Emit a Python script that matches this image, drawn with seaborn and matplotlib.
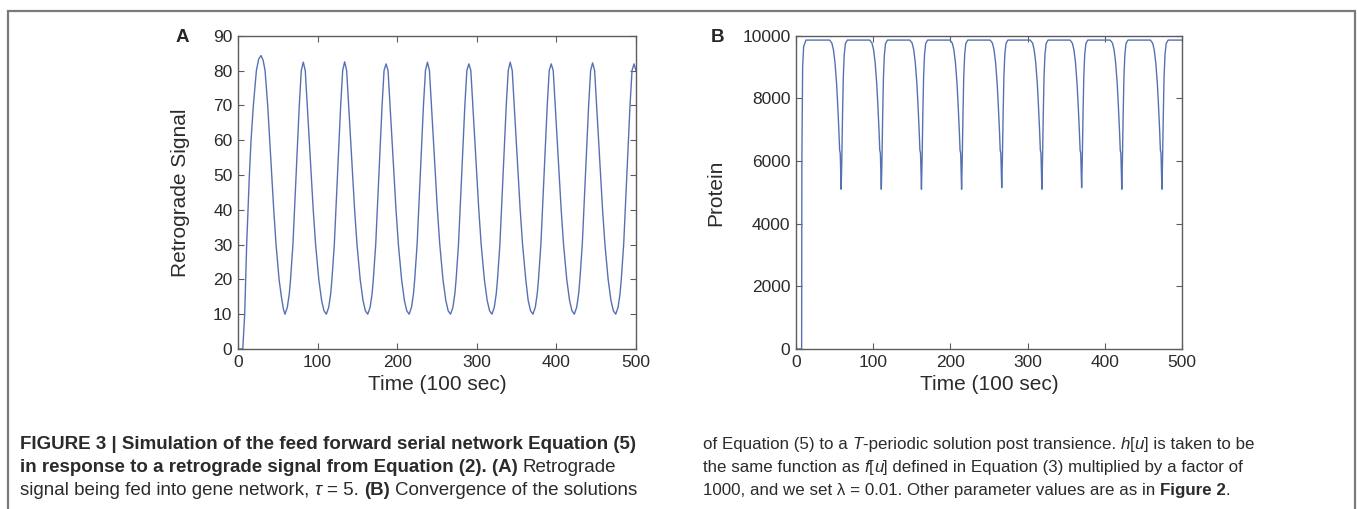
import matplotlib
matplotlib.use("Agg")
import matplotlib.pyplot as plt
import seaborn as sns
from matplotlib.patches import Rectangle

# --- data ---
# (A) retrograde signal, time in units of 100 sec
TIME_A = [
    0, 6, 8.4, 9.7, 10.9, 12.6, 14.3, 16.4, 19.3, 23.1, 26, 28.9, 31.5, 34, 37.3, 39.8, 42.4, 44.9, 47.8, 51.6, 54.5, 57,
    59, 62, 64.5, 66, 69, 71, 73, 75, 77, 79.5, 82, 84.5, 87, 89.5, 92, 94.5, 97.5, 101.5, 105, 108,
    111, 114, 116.5, 118, 121, 123, 125, 127, 129, 131.5, 134, 136.5, 139, 141.5, 144, 146.5, 149.5, 153.5, 157, 160,
    163, 166, 168.5, 170, 173, 175, 177, 179, 181, 183.5, 186, 188.5, 191, 193.5, 196, 198.5, 201.5, 205.5, 209, 212,
    215, 218, 220.5, 222, 225, 227, 229, 231, 233, 235.5, 238, 240.5, 243, 245.5, 248, 250.5, 253.5, 257.5, 261, 264,
    267, 270, 272.5, 274, 277, 279, 281, 283, 285, 287.5, 290, 292.5, 295, 297.5, 300, 302.5, 305.5, 309.5, 313, 316,
    319, 322, 324.5, 326, 329, 331, 333, 335, 337, 339.5, 342, 344.5, 347, 349.5, 352, 354.5, 357.5, 361.5, 364.5, 367.5,
    370.5, 373.5, 376, 377.5, 380.5, 382.5, 384.5, 386.5, 388.5, 391, 393.5, 396, 398.5, 401, 403.5, 406, 409, 413, 416.5, 419.5,
    422.5, 425.5, 428, 429.5, 432.5, 434.5, 436.5, 438.5, 440.5, 443, 445.5, 448, 450.5, 453, 455.5, 458, 461, 465, 468.5, 471.5,
    474.5, 477.5, 480, 481.5, 484.5, 486.5, 488.5, 490.5, 492.5, 495, 497.5, 500,
]
SIGNAL_A = [
    0, 0, 10, 20, 30, 40, 50, 60, 70, 80, 83.3, 84.3, 83, 80, 70, 60, 50, 40, 30, 20, 15, 11.5,
    10, 12, 16, 20, 30, 40, 50, 60, 70, 80, 82.4, 80, 70, 60, 50, 40, 30, 20, 14, 11,
    10, 12, 16, 20, 30, 40, 50, 60, 70, 80, 82.5, 80, 70, 60, 50, 40, 30, 20, 14, 11,
    10, 12, 16, 20, 30, 40, 50, 60, 70, 80, 81.9, 80, 70, 60, 50, 40, 30, 20, 14, 11,
    10, 12, 16, 20, 30, 40, 50, 60, 70, 80, 82.4, 80, 70, 60, 50, 40, 30, 20, 14, 11,
    10, 12, 16, 20, 30, 40, 50, 60, 70, 80, 81.9, 80, 70, 60, 50, 40, 30, 20, 14, 11,
    10, 12, 16, 20, 30, 40, 50, 60, 70, 80, 82.4, 80, 70, 60, 50, 40, 30, 20, 14, 11,
    10, 12, 16, 20, 30, 40, 50, 60, 70, 80, 81.9, 80, 70, 60, 50, 40, 30, 20, 14, 11,
    10, 12, 16, 20, 30, 40, 50, 60, 70, 80, 82.2, 80, 70, 60, 50, 40, 30, 20, 14, 11,
    10, 12, 16, 20, 30, 40, 50, 60, 70, 80, 81.9, 80,
]

# (B) protein
TIME_B = [
    0, 7.3, 7.6, 8.6, 9.9, 12.9,
    43.5, 46.5, 48.5, 50.5, 52.5, 54, 55.5, 56.5, 57.3, 58, 58.5, 59.3, 60.3, 61.3, 62.5, 64, 66.5,
    95.5, 98.5, 100.5, 102.5, 104.5, 106, 107.5, 108.5, 109.3, 110, 110.5, 111.3, 112.3, 113.3, 114.5, 116, 118.5,
    147.5, 150.5, 152.5, 154.5, 156.5, 158, 159.5, 160.5, 161.3, 162, 162.5, 163.3, 164.3, 165.3, 166.5, 168, 170.5,
    199.5, 202.5, 204.5, 206.5, 208.5, 210, 211.5, 212.5, 213.3, 214, 214.5, 215.3, 216.3, 217.3, 218.5, 220, 222.5,
    251.5, 254.5, 256.5, 258.5, 260.5, 262, 263.5, 264.5, 265.3, 266, 266.5, 267.3, 268.3, 269.3, 270.5, 272, 274.5,
    303.5, 306.5, 308.5, 310.5, 312.5, 314, 315.5, 316.5, 317.3, 318, 318.5, 319.3, 320.3, 321.3, 322.5, 324, 326.5,
    355, 358, 360, 362, 364, 365.5, 367, 368, 368.8, 369.5, 370, 370.8, 371.8, 372.8, 374, 375.5, 378,
    407, 410, 412, 414, 416, 417.5, 419, 420, 420.8, 421.5, 422, 422.8, 423.8, 424.8, 426, 427.5, 430,
    459, 462, 464, 466, 468, 469.5, 471, 472, 472.8, 473.5, 474, 474.8, 475.8, 476.8, 478, 479.5, 482,
    500,
]
PROTEIN_B = [
    0, 0, 6000, 9000, 9650, 9860,
    9860, 9760, 9550, 9150, 8500, 7800, 7000, 6350, 6250, 5600, 5100, 6000, 7500, 8700, 9400, 9750, 9860,
    9860, 9760, 9550, 9150, 8500, 7800, 7000, 6350, 6250, 5600, 5100, 6000, 7500, 8700, 9400, 9750, 9860,
    9860, 9760, 9550, 9150, 8500, 7800, 7000, 6350, 6250, 5600, 5100, 6000, 7500, 8700, 9400, 9750, 9860,
    9860, 9760, 9550, 9150, 8500, 7800, 7000, 6350, 6250, 5600, 5100, 6000, 7500, 8700, 9400, 9750, 9860,
    9860, 9760, 9550, 9150, 8500, 7800, 7000, 6350, 6250, 5600, 5150, 6000, 7500, 8700, 9400, 9750, 9860,
    9860, 9760, 9550, 9150, 8500, 7800, 7000, 6350, 6250, 5600, 5100, 6000, 7500, 8700, 9400, 9750, 9860,
    9860, 9760, 9550, 9150, 8500, 7800, 7000, 6350, 6250, 5600, 5150, 6000, 7500, 8700, 9400, 9750, 9860,
    9860, 9760, 9550, 9150, 8500, 7800, 7000, 6350, 6250, 5600, 5100, 6000, 7500, 8700, 9400, 9750, 9860,
    9860, 9760, 9550, 9150, 8500, 7800, 7000, 6350, 6250, 5600, 5100, 6000, 7500, 8700, 9400, 9750, 9860,
    9860,
]

X_TICKS = [0, 100, 200, 300, 400, 500]
Y_TICKS_A = [0, 10, 20, 30, 40, 50, 60, 70, 80, 90]
Y_TICKS_B = [0, 2000, 4000, 6000, 8000, 10000]

LINE_COLOR = "#5671b3"
AXIS_COLOR = "#5c5c5c"
TEXT_COLOR = "#2b2b2b"

# caption lines: pieces of (text, style)
CAPTION_LEFT = [
    [("FIGURE 3 | Simulation of the feed forward serial network Equation (5)", "bold")],
    [("in response to a retrograde signal from Equation (2). (A)", "bold"), (" Retrograde", "normal")],
    [("signal being fed into gene network, ", "normal"), ("τ", "italic"), (" = 5. ", "normal"),
     ("(B)", "bold"), (" Convergence of the solutions", "normal")],
]
CAPTION_RIGHT = [
    [("of Equation (5) to a ", "normal"), ("T", "italic"), ("-periodic solution post transience. ", "normal"),
     ("h", "italic"), ("[", "normal"), ("u", "italic"), ("] is taken to be", "normal")],
    [("the same function as ", "normal"), ("f", "italic"), ("[", "normal"), ("u", "italic"),
     ("] defined in Equation (3) multiplied by a factor of", "normal")],
    [("1000, and we set λ = 0.01. Other parameter values are as in ", "normal"), ("Figure 2", "bold"),
     (".", "normal")],
]

W, H = 1357, 509
CAP_FONT = ["Liberation Sans Narrow", "Liberation Sans", "DejaVu Sans"]


def style_axes(ax, yticks, ylabel, label_x):
    ax.set_xlim(0, 500)
    ax.set_ylim(yticks[0], yticks[-1])
    ax.set_xticks(X_TICKS)
    ax.set_yticks(yticks)
    ax.tick_params(direction="in", top=True, right=True, length=4, width=0.8,
                   color=AXIS_COLOR, labelcolor=TEXT_COLOR, labelsize=12.5, pad=4)
    for s in ax.spines.values():
        s.set_visible(True)
        s.set_color(AXIS_COLOR)
        s.set_linewidth(1)
    ax.set_xlabel("Time (100 sec)", fontsize=15, color=TEXT_COLOR)
    ax.set_ylabel(ylabel, fontsize=15, color=TEXT_COLOR)
    ax.xaxis.set_label_coords(0.5, -0.083)
    ax.xaxis.label.set_va("top")
    ax.yaxis.set_label_coords(label_x, 0.5)


def font_kw(style, size):
    kw = dict(family=CAP_FONT, fontsize=size, color=TEXT_COLOR)
    if style == "bold":
        kw["fontweight"] = "bold"
    elif style == "italic":
        kw["fontstyle"] = "italic"
    return kw


def draw_caption(fig, x_px, y_px, lines, step, size):
    # mixed bold / italic runs, placed one after another on a shared baseline
    r = fig.canvas.get_renderer()
    t1 = fig.text(0, 0, "x x", **font_kw("normal", size))
    t2 = fig.text(0, 0, "xx", **font_kw("normal", size))
    space_w = t1.get_window_extent(r).width - t2.get_window_extent(r).width
    t1.remove()
    t2.remove()
    for i, pieces in enumerate(lines):
        y = 1 - (y_px + i * step) / H
        x = x_px
        for text, style in pieces:
            core = text.strip(" ")
            x += (len(text) - len(text.lstrip(" "))) * space_w
            t = fig.text(x / W, y, core, ha="left", va="baseline", **font_kw(style, size))
            x += t.get_window_extent(r).width
            x += (len(text) - len(text.rstrip(" "))) * space_w


def main():
    sns.set_style("ticks")
    plt.rcParams["font.family"] = ["Liberation Sans", "DejaVu Sans"]

    fig = plt.figure(figsize=(W / 100, H / 100), dpi=100)
    ax_a = fig.add_axes([238 / W, 1 - 349 / H, 398 / W, 313.3 / H])
    ax_b = fig.add_axes([796 / W, 1 - 349 / H, 386 / W, 313.3 / H])

    sns.lineplot(x=TIME_A, y=SIGNAL_A, ax=ax_a, color=LINE_COLOR, linewidth=1.0, estimator=None)
    sns.lineplot(x=TIME_B, y=PROTEIN_B, ax=ax_b, color=LINE_COLOR, linewidth=1.0, estimator=None)

    style_axes(ax_a, Y_TICKS_A, "Retrograde Signal", -0.121)
    style_axes(ax_b, Y_TICKS_B, "Protein", -0.183)

    fig.text(182 / W, 1 - 38 / H, "A", fontsize=13.5, fontweight="bold", ha="center", va="center")
    fig.text(718 / W, 1 - 38 / H, "B", fontsize=13.5, fontweight="bold", ha="center", va="center")

    # outer frame of the figure box
    fig.patches.append(Rectangle((8 / W, -0.1), (1355 - 8) / W, 0.1 + 1 - 11 / H,
                                 transform=fig.transFigure, fill=False,
                                 edgecolor="#7a7a7a", linewidth=1.6, clip_on=False))

    draw_caption(fig, 20, 449, CAPTION_LEFT, 23, 13.5)
    draw_caption(fig, 703, 449, CAPTION_RIGHT, 23, 12.2)

    fig.savefig("out.png", dpi=100)
    plt.close(fig)


if __name__ == "__main__":
    main()
